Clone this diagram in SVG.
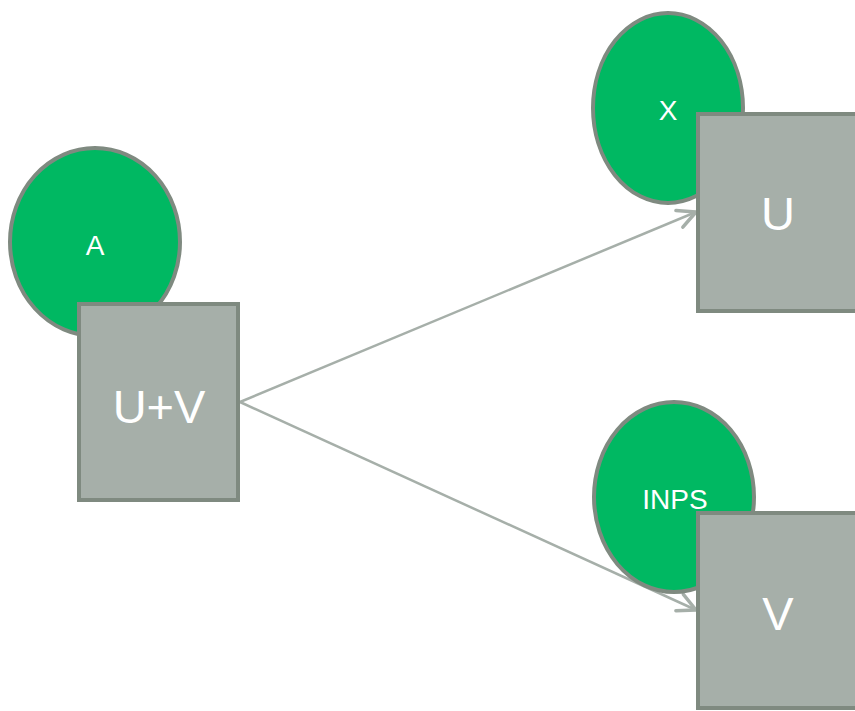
<svg xmlns="http://www.w3.org/2000/svg" width="855" height="711" viewBox="0 0 855 711">
<style>
.ell{fill:#00b862;stroke:#7f8a80;stroke-width:4}
.box{fill:#a6afa9;stroke:#7f8a80;stroke-width:4}
.conn{stroke:#a6afa9;stroke-width:2.5;fill:none}
.t{fill:#ffffff;font-family:"Liberation Sans",Arial,sans-serif;text-anchor:middle}
.s{font-size:28px}
.b{font-size:47px}
</style>
<defs>
<marker id="arr" viewBox="0 0 24 24" refX="21" refY="12" markerWidth="24" markerHeight="24" markerUnits="userSpaceOnUse" orient="auto">
<path d="M3,3 L21,12 L3,21" fill="none" stroke="#a6afa9" stroke-width="3.5" stroke-linecap="round" stroke-linejoin="round"/>
</marker>
</defs>
<g id="connectors">
<line class="conn" x1="240" y1="402" x2="696" y2="212" marker-end="url(#arr)"/>
<line class="conn" x1="240" y1="402" x2="696" y2="610" marker-end="url(#arr)"/>
</g>
<g id="node-A">
<ellipse class="ell" cx="95" cy="242" rx="85" ry="94"/>
<text class="t s" x="95" y="255">A</text>
</g>
<g id="node-UV">
<rect class="box" x="79" y="304" width="159" height="196"/>
<text class="t b" x="159" y="423">U+V</text>
</g>
<g id="node-X">
<ellipse class="ell" cx="668" cy="108" rx="75" ry="95"/>
<text class="t s" x="668" y="120">X</text>
</g>
<g id="node-U">
<rect class="box" x="698" y="114" width="170" height="197"/>
<text class="t b" x="778" y="230">U</text>
</g>
<g id="node-INPS">
<ellipse class="ell" cx="674" cy="497" rx="80" ry="95"/>
<text class="t s" x="675" y="509">INPS</text>
</g>
<g id="node-V">
<rect class="box" x="698" y="513" width="170" height="195"/>
<text class="t b" x="778" y="630">V</text>
</g>
</svg>
